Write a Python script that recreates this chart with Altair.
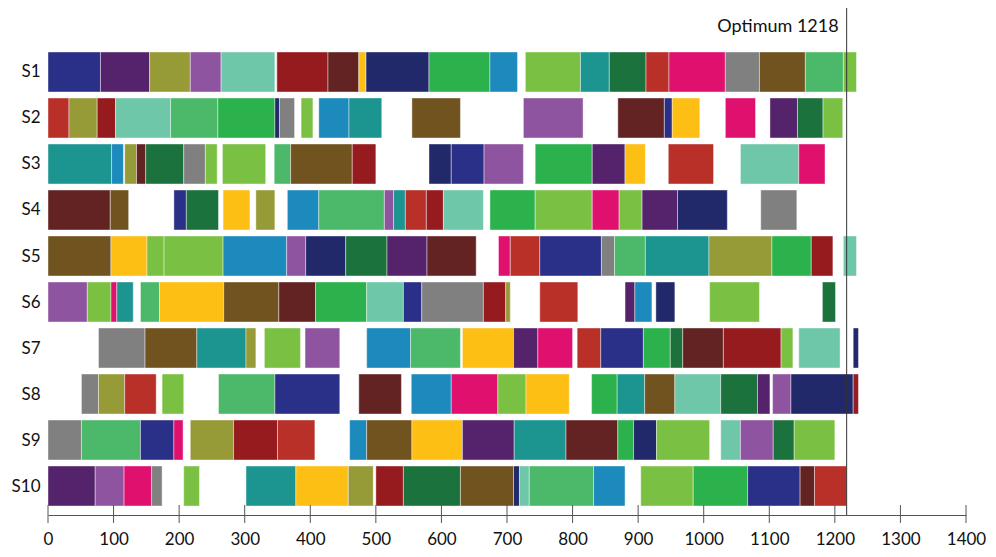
import altair as alt
import pandas as pd

# Job colours (each job keeps its colour on every machine)
job_keys = ["navy", "royal", "purple", "olive", "lavender", "mint", "darkred", "maroon",
            "yellow", "green", "blue", "lime", "teal", "darkgreen", "red", "magenta",
            "gray", "brown", "medgreen"]
job_colors = ["#21296A", "#2A3087", "#55236B", "#969A37", "#8F54A0", "#6FC7A9", "#961B1F", "#632323",
              "#FDBF14", "#2BB24C", "#1C8ABC", "#7AC143", "#1C9591", "#1C723C", "#B83027", "#E0106F",
              "#808080", "#70531F", "#4CB96A"]

machines = ["S1", "S2", "S3", "S4", "S5", "S6", "S7", "S8", "S9", "S10"]

S1 = [(0,80,"royal"),(80,155,"purple"),(155,217,"olive"),(217,264,"lavender"),(264,346,"mint"),(349,427,"darkred"),(427,474,"maroon"),(474,485,"yellow"),(485,581,"navy"),(581,674,"green"),(674,716,"blue"),(728,812,"lime"),(812,856,"teal"),(856,912,"darkgreen"),(912,947,"red"),(947,1033,"magenta"),(1033,1085,"gray"),(1085,1155,"brown"),(1155,1213,"medgreen"),(1213,1233,"lime")]
S2 = [(0,32,"red"),(32,75,"olive"),(75,103,"darkred"),(103,187,"mint"),(187,259,"medgreen"),(259,346,"green"),(346,353,"navy"),(353,376,"gray"),(386,404,"lime"),(413,459,"blue"),(459,509,"teal"),(555,629,"brown"),(725,816,"lavender"),(869,940,"maroon"),(940,952,"royal"),(952,994,"yellow"),(1033,1079,"magenta"),(1101,1143,"purple"),(1143,1182,"darkgreen"),(1182,1212,"lime")]
S3 = [(0,97,"teal"),(97,115,"blue"),(117,135,"olive"),(135,149,"maroon"),(149,207,"darkgreen"),(207,240,"gray"),(240,258,"lime"),(266,332,"lime"),(345,370,"medgreen"),(370,464,"brown"),(464,500,"darkred"),(581,615,"navy"),(615,665,"royal"),(665,725,"lavender"),(743,830,"green"),(830,880,"purple"),(880,911,"yellow"),(946,1015,"red"),(1056,1145,"mint"),(1145,1185,"magenta")]
S4 = [(0,95,"maroon"),(95,123,"brown"),(192,211,"royal"),(211,260,"darkgreen"),(267,308,"yellow"),(317,346,"olive"),(365,413,"blue"),(413,513,"medgreen"),(513,527,"lavender"),(527,545,"teal"),(545,577,"red"),(577,603,"darkred"),(603,664,"mint"),(674,743,"green"),(743,830,"lime"),(830,871,"magenta"),(871,906,"lime"),(906,960,"purple"),(960,1036,"navy"),(1087,1142,"gray")]
S5 = [(0,96,"brown"),(96,151,"yellow"),(151,177,"lime"),(177,267,"lime"),(267,364,"blue"),(364,393,"lavender"),(393,454,"navy"),(454,517,"darkgreen"),(517,578,"purple"),(578,653,"maroon"),(687,705,"magenta"),(705,750,"red"),(750,844,"royal"),(844,864,"gray"),(864,911,"medgreen"),(911,1008,"teal"),(1008,1104,"olive"),(1104,1164,"green"),(1164,1197,"darkred"),(1213,1233,"mint")]
S6 = [(0,60,"lavender"),(60,96,"lime"),(96,105,"magenta"),(105,130,"teal"),(141,170,"medgreen"),(170,268,"yellow"),(268,352,"brown"),(352,408,"maroon"),(408,486,"green"),(486,542,"mint"),(542,570,"royal"),(570,664,"gray"),(664,698,"darkred"),(698,705,"olive"),(750,808,"red"),(880,895,"purple"),(895,921,"blue"),(927,956,"navy"),(1009,1085,"lime"),(1181,1201,"darkgreen")]
S7 = [(77,148,"gray"),(148,227,"brown"),(227,302,"teal"),(302,317,"olive"),(330,385,"lime"),(392,445,"lavender"),(486,553,"blue"),(553,629,"medgreen"),(632,710,"yellow"),(710,747,"purple"),(747,800,"magenta"),(807,843,"red"),(843,908,"royal"),(908,949,"green"),(949,968,"darkgreen"),(968,1030,"maroon"),(1030,1118,"darkred"),(1118,1136,"lime"),(1145,1208,"mint"),(1228,1236,"navy")]
S8 = [(51,77,"gray"),(77,117,"olive"),(117,165,"red"),(174,207,"lime"),(260,346,"medgreen"),(346,445,"royal"),(474,539,"maroon"),(554,615,"blue"),(615,686,"magenta"),(686,729,"lime"),(729,795,"yellow"),(829,868,"green"),(868,910,"teal"),(910,956,"brown"),(956,1026,"mint"),(1026,1082,"darkgreen"),(1082,1101,"purple"),(1105,1133,"lavender"),(1133,1228,"navy"),(1228,1236,"darkred")]
S9 = [(0,51,"gray"),(51,141,"medgreen"),(141,192,"royal"),(192,206,"magenta"),(217,283,"olive"),(283,350,"darkred"),(350,407,"red"),(460,486,"blue"),(486,555,"brown"),(555,632,"yellow"),(632,711,"purple"),(711,790,"teal"),(790,869,"maroon"),(869,893,"green"),(893,928,"navy"),(928,1009,"lime"),(1026,1056,"mint"),(1056,1106,"lavender"),(1106,1138,"darkgreen"),(1138,1200,"lime")]
S10 = [(0,72,"purple"),(72,116,"lavender"),(116,158,"magenta"),(158,174,"gray"),(207,231,"lime"),(302,378,"teal"),(378,458,"yellow"),(458,496,"olive"),(500,542,"darkred"),(542,629,"darkgreen"),(629,710,"brown"),(710,719,"navy"),(719,734,"mint"),(734,832,"medgreen"),(832,880,"blue"),(904,984,"lime"),(984,1067,"green"),(1067,1147,"royal"),(1147,1169,"maroon"),(1169,1218,"red")]

rows = [S1, S2, S3, S4, S5, S6, S7, S8, S9, S10]
optimum = 1218
x_ticks = [0, 100, 200, 300, 400, 500, 600, 700, 800, 900, 1000, 1100, 1200, 1300, 1400]

recs = []
for i, (m, ops) in enumerate(zip(machines, rows), start=1):
    for s, e, j in ops:
        recs.append({"machine": m, "row": i, "start": s, "end": e, "job": j})
df = pd.DataFrame(recs)

W, H = 918, 507
half = 0.435
FONT = "Lato"

xscale = alt.Scale(domain=[0, 1400], nice=False, zero=False)
yscale = alt.Scale(domain=[-0.391, 10.63], reverse=True, nice=False, zero=False)

bars = alt.Chart(df).transform_calculate(
    y0=f"datum.row - {half}", y1=f"datum.row + {half}"
).mark_bar(stroke="white", strokeWidth=0.6, strokeOpacity=0.7).encode(
    x=alt.X("start:Q", scale=xscale,
            axis=alt.Axis(values=x_ticks, format="d", grid=False, ticks=False, tickSize=0,
                          domainColor="#555555", domainWidth=1, labelFontSize=17, labelFont=FONT,
                          labelColor="#111111", labelPadding=16, title=None, labelFlush=False,
                          labelOverlap=False)),
    x2="end:Q",
    y=alt.Y("y0:Q", scale=yscale,
            axis=alt.Axis(values=list(range(1, 11)), labelExpr="'S' + datum.value", grid=False,
                          ticks=False, tickSize=0, domain=False, labelFontSize=17, labelFont=FONT,
                          labelColor="#111111", labelPadding=8, title=None)),
    y2="y1:Q",
    color=alt.Color("job:N", scale=alt.Scale(domain=job_keys, range=job_colors), legend=None),
)

tick_df = pd.DataFrame({"t": x_ticks})
tick_rules = alt.Chart(tick_df).mark_rule(color="#555555", strokeWidth=1).encode(
    x=alt.X("t:Q", scale=xscale),
    y=alt.value(H - 10), y2=alt.value(H + 8),
)

opt_df = pd.DataFrame({"opt": [optimum], "label": [f"Optimum {optimum}"]})
opt_rule = alt.Chart(opt_df).mark_rule(color="#333333", strokeWidth=1).encode(
    x=alt.X("opt:Q", scale=xscale), y=alt.value(0), y2=alt.value(H),
)
opt_text = alt.Chart(opt_df).mark_text(align="right", baseline="middle", dx=-8, fontSize=18,
                                       font=FONT, color="#111111").encode(
    x=alt.X("opt:Q", scale=xscale), y=alt.value(19), text="label:N",
)

chart = alt.layer(bars, tick_rules, opt_rule, opt_text).properties(
    width=W, height=H,
    background="white",
    padding={"left": 40, "top": 0, "right": 22, "bottom": 34},
    autosize=alt.AutoSizeParams(type="none"),
).configure_view(strokeWidth=0, stroke=None)

chart.save("out.html", embed_options={"renderer": "svg", "actions": False})
